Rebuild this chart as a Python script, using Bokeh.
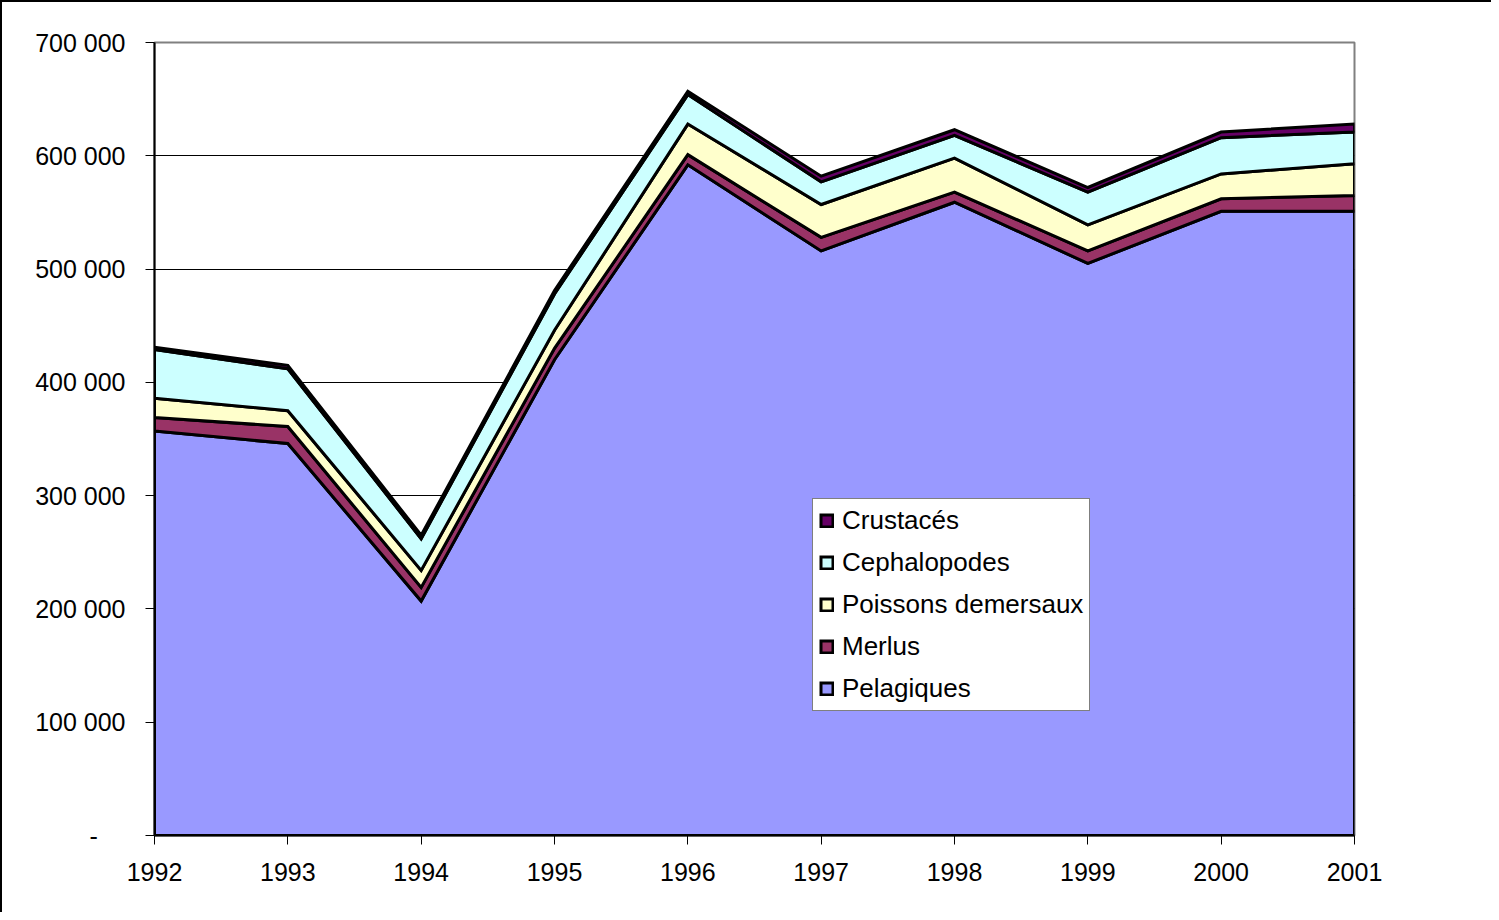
import numpy as np
from bokeh.plotting import figure
from bokeh.models import FixedTicker, Legend, LegendItem, Range1d
from bokeh.embed import file_html
from bokeh.resources import INLINE

years = [1992, 1993, 1994, 1995, 1996, 1997, 1998, 1999, 2000, 2001]
year_labels = ["1992", "1993", "1994", "1995", "1996", "1997", "1998", "1999", "2000", "2001"]
pelagiques = [357000, 346000, 207000, 420000, 592000, 516000, 559000, 505000, 551000, 551000]
merlus = [12000, 15000, 12000, 10000, 9000, 12000, 9000, 11000, 11000, 14000]
poissons_demersaux = [17000, 14000, 15000, 16000, 27000, 29000, 30000, 23000, 22000, 28000]
cephalopodes = [43000, 37000, 28000, 32000, 26000, 20000, 20000, 29000, 32000, 28000]
crustaces = [2000, 3000, 3000, 3000, 3000, 5000, 5000, 4000, 5000, 7000]

series_names = ["Pelagiques", "Merlus", "Poissons demersaux", "Cephalopodes", "Crustacés"]
series_values = [pelagiques, merlus, poissons_demersaux, cephalopodes, crustaces]
series_colors = ["#9999FF", "#993366", "#FFFFCC", "#CCFFFF", "#660066"]

y_ticks = [0, 100000, 200000, 300000, 400000, 500000, 600000, 700000]
y_tick_labels = ["-\u00a0\u00a0\u00a0\u00a0", "100 000", "200 000", "300 000", "400 000",
                 "500 000", "600 000", "700 000"]

FONT = "Liberation Sans"

p = figure(width=1491, height=912, output_backend="svg", toolbar_location=None,
           x_range=Range1d(1992, 2001), y_range=Range1d(0, 700000),
           min_border_left=152, min_border_top=40, min_border_right=139,
           min_border_bottom=79)
p.styles = {"border-left": "2px solid black", "border-top": "2px solid black"}

x = np.array(years, dtype=float)
bottom = np.zeros(len(years))
renderers = []
for name, vals, col in zip(series_names, series_values, series_colors):
    top = bottom + np.array(vals, dtype=float)
    xs = list(x) + list(x[::-1])
    ys = list(top) + list(bottom[::-1])
    r = p.patch(xs, ys, fill_color=col, line_color="black", line_width=3,
                line_join="miter")
    renderers.append((name, r))
    bottom = top

# axes
p.xaxis.ticker = FixedTicker(ticks=years)
p.xaxis.major_label_overrides = {y: l for y, l in zip(years, year_labels)}
p.yaxis.ticker = FixedTicker(ticks=y_ticks)
p.yaxis.major_label_overrides = {t: l for t, l in zip(y_ticks, y_tick_labels)}
for ax in (p.xaxis, p.yaxis):
    ax.axis_line_color = "black"
    ax.axis_line_width = 2
    ax.major_tick_line_color = "black"
    ax.major_tick_line_width = 1
    ax.major_tick_out = 9
    ax.major_tick_in = 0
    ax.minor_tick_line_color = None
    ax.major_label_text_font = FONT
    ax.major_label_text_font_size = "25px"
    ax.major_label_text_color = "black"
p.xaxis.major_label_standoff = 18
p.yaxis.major_label_standoff = 20

p.xgrid.grid_line_color = None
p.ygrid.ticker = FixedTicker(ticks=y_ticks)
p.ygrid.grid_line_color = "black"
p.ygrid.grid_line_width = 1
p.ygrid.level = "underlay"

p.outline_line_color = "#808080"
p.outline_line_width = 2

items = [LegendItem(label=n, renderers=[r]) for n, r in reversed(renderers)]
legend = Legend(items=items, location=(658, 124))
legend.label_text_font = FONT
legend.label_text_font_size = "26px"
legend.label_text_color = "black"
legend.glyph_width = 15
legend.glyph_height = 15
legend.label_height = 31
legend.spacing = 11
legend.padding = 6
legend.margin = 0
legend.label_standoff = 8
legend.border_line_color = "black"
legend.border_line_width = 1
legend.background_fill_color = "white"
legend.background_fill_alpha = 1
p.add_layout(legend, "center")

open("out.html", "w").write(file_html(p, INLINE))
